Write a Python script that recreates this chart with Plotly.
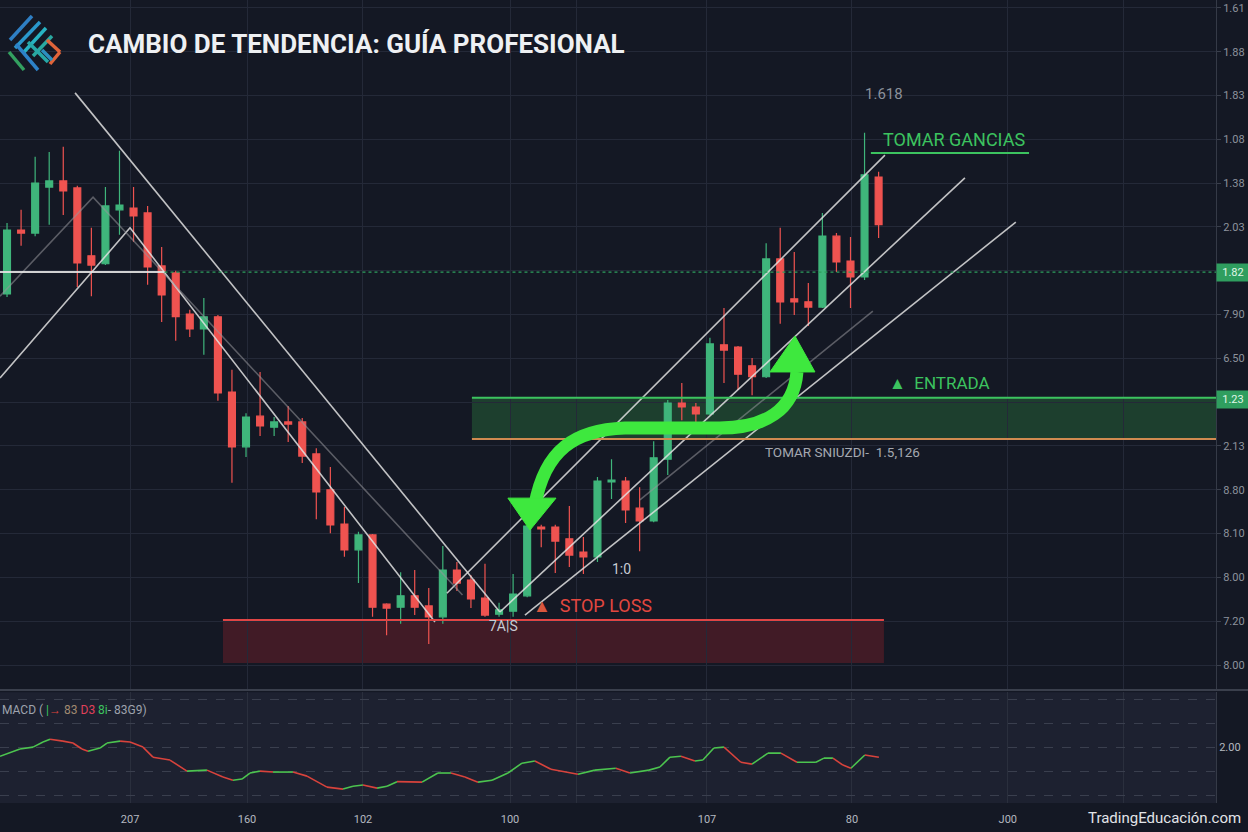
import plotly.graph_objects as go

# ---------------- data ----------------
opens = [84.7, 99.3, 98.6, 109.1, 110.5, 108.9, 93.4, 91.6, 103.9, 104.3, 103.2, 91.1, 89.5, 80.1, 76.7,
         79.5, 62.3, 49.8, 56.8, 54.3, 55.5, 55.5, 48.2, 40.0, 32.2, 26.3, 29.7, 13.9, 13.2, 15.8,
         13.5, 11.0, 21.7, 19.4, 15.3, 11.6, 12.3, 15.8, 31.5, 31.5, 28.8, 25.8, 24.7, 41.8, 42.0,
         35.8, 32.9, 47.0, 59.8, 58.9, 57.3, 73.1, 72.6, 68.3, 65.8, 92.7, 83.6, 82.9, 81.7, 97.9,
         92.2, 88.6, 111.4]
highs = [100.9, 103.9, 116.0, 117.1, 118.3, 109.4, 99.8, 109.1, 117.4, 109.1, 104.8, 95.4, 90.0, 81.1, 83.8,
         79.9, 67.4, 57.5, 66.9, 56.6, 59.1, 56.4, 49.5, 45.2, 36.1, 30.4, 29.9, 14.1, 21.2, 21.7,
         17.6, 27.2, 23.5, 20.5, 23.1, 14.2, 20.8, 34.2, 32.0, 32.0, 36.3, 29.2, 42.9, 47.0, 42.9,
         40.6, 51.1, 60.5, 64.4, 59.8, 74.7, 81.5, 72.8, 70.1, 96.3, 99.8, 94.3, 87.2, 103.2, 98.6,
         97.7, 121.5, 112.6]
lows = [84.0, 95.7, 97.9, 100.5, 102.7, 86.3, 84.2, 91.3, 98.2, 96.6, 86.8, 78.3, 74.0, 74.9, 70.8,
        60.3, 41.6, 47.5, 52.3, 52.3, 50.9, 46.1, 33.3, 30.1, 24.7, 18.7, 11.0, 6.8, 9.4, 11.4,
        4.8, 9.4, 16.9, 13.0, 11.0, 11.0, 11.0, 15.5, 26.9, 21.0, 22.4, 20.8, 23.5, 37.9, 32.4,
        26.0, 32.6, 43.4, 55.9, 55.5, 57.1, 64.4, 62.8, 61.6, 65.5, 77.9, 79.9, 77.4, 81.5, 89.7,
        81.5, 87.9, 97.5]
closes = [99.3, 98.6, 110.0, 110.5, 108.2, 91.8, 91.3, 104.8, 105.0, 102.5, 90.9, 84.5, 79.5, 76.7, 79.5,
          62.1, 49.8, 56.6, 54.6, 55.5, 55.0, 47.7, 39.5, 32.0, 26.3, 29.7, 13.2, 13.0, 15.8, 13.2,
          11.0, 21.7, 18.7, 15.1, 11.4, 12.6, 16.2, 31.7, 31.1, 28.3, 25.1, 24.7, 42.0, 42.2, 35.4,
          32.9, 47.3, 59.8, 58.9, 57.3, 73.3, 71.9, 66.4, 65.8, 92.7, 82.9, 82.9, 81.7, 97.9, 92.0,
          88.6, 111.9, 100.5]
bars = list(range(len(opens)))

macd_x = [-0.5, 0.92, 1.85, 2.56, 3.06, 3.98, 4.69, 5.33, 5.76, 6.61, 7.11, 8.04, 8.75, 9.67, 10.38,
          11.59, 12.80, 14.22, 15.36, 16.07, 16.71, 17.28, 17.99, 18.92, 20.34, 21.34, 22.76, 23.90,
          24.61, 25.32, 26.32, 27.03, 27.74, 29.52, 30.65, 31.58, 32.57, 33.50, 34.50, 35.63, 36.63,
          37.55, 38.69, 40.61, 41.82, 43.31, 44.31, 45.66, 46.44, 47.16, 47.94, 48.93, 49.50, 50.28,
          51.00, 52.20, 52.99, 54.13, 55.05, 56.19, 57.54, 58.11, 58.75, 59.46, 60.03, 61.02, 62.02]
macd_v = [-0.38, -0.08, 0.0, 0.21, 0.33, 0.25, 0.17, -0.08, -0.17, -0.04, 0.17, 0.25, 0.21, 0.0, -0.42,
          -0.54, -1.0, -0.96, -1.25, -1.38, -1.33, -1.08, -1.0, -1.04, -1.04, -1.21, -1.67, -1.75,
          -1.63, -1.58, -1.71, -1.63, -1.44, -1.46, -1.08, -1.08, -1.25, -1.46, -1.38, -1.08, -0.67,
          -0.58, -0.92, -1.13, -0.96, -0.88, -1.08, -0.96, -0.83, -0.42, -0.38, -0.58, -0.54, -0.04,
          0.0, -0.63, -0.71, -0.25, -0.25, -0.63, -0.63, -0.46, -0.46, -0.75, -0.88, -0.33, -0.42]

# axis labels (as printed on the chart)
price_ticks = [0, 10, 20, 30, 40, 50, 60, 70, 80, 90, 100, 110, 120, 130, 140, 150]
price_labels = ["8.00", "7.20", "8.00", "8.10", "8.80", "2.13", "", "6.50", "7.90", "",
                "2.03", "1.38", "1.08", "1.83", "1.88", "1.61"]
time_ticks = [8.75, 17.07, 25.32, 35.78, 40.54, 49.79, 60.10, 71.19, 79.45]
time_labels = ["207", "160", "102", "100", "", "107", "80", "J00", ""]
macd_ticks = [-2, -1, 0, 1, 2]
macd_labels = ["", "", "2.00", "", ""]

# analysis levels / drawings (bar index, price)
entry_zone = (33.07, 51.6, 61.0)
stop_zone = (15.36, 62.38, 0.46, 10.3)
pivot_level = 89.7
trend_lines = {
    "down_main": [(4.84, 130.6), (35.06, 12.1)],
    "down_inner": [(-0.5, 65.5), (8.75, 99.8), (30.44, 9.8)],
    "up_1": [(31.29, 16.4), (62.45, 116.4)],
    "up_2": [(35.06, 12.1), (68.14, 111.2)],
    "up_3": [(36.84, 11.4), (71.76, 101.1)],
}
grey_lines = {
    "down_grey": [(-0.5, 84.2), (6.12, 106.8), (32.4, 16.0)],
    "up_grey": [(45.02, 37.7), (61.59, 80.8)],
}

GREEN = "#3fb57b"
RED = "#ef5350"
BG = "#141824"
XR = [-0.5, 86.0]

fig = go.Figure()

fig.add_trace(go.Candlestick(
    x=bars, open=opens, high=highs, low=lows, close=closes,
    increasing=dict(line=dict(color=GREEN, width=1.2), fillcolor=GREEN),
    decreasing=dict(line=dict(color=RED, width=1.2), fillcolor=RED),
    whiskerwidth=0, showlegend=False, xaxis="x", yaxis="y"))

for name, pts in trend_lines.items():
    fig.add_trace(go.Scatter(x=[p[0] for p in pts], y=[p[1] for p in pts], mode="lines",
                             line=dict(color="rgba(225,225,225,0.85)", width=1.6),
                             showlegend=False, hoverinfo="skip"))
for name, pts in grey_lines.items():
    fig.add_trace(go.Scatter(x=[p[0] for p in pts], y=[p[1] for p in pts], mode="lines",
                             line=dict(color="rgba(150,150,155,0.55)", width=1.6),
                             showlegend=False, hoverinfo="skip"))

# MACD coloured by direction
ux, uy, dx, dy = [], [], [], []
for k in range(len(macd_x) - 1):
    tx, ty = (ux, uy) if macd_v[k + 1] >= macd_v[k] else (dx, dy)
    tx += [macd_x[k], macd_x[k + 1], None]
    ty += [macd_v[k], macd_v[k + 1], None]
fig.add_trace(go.Scatter(x=ux, y=uy, mode="lines", line=dict(color="#4cc44f", width=1.6),
                         xaxis="x2", yaxis="y2", showlegend=False, hoverinfo="skip"))
fig.add_trace(go.Scatter(x=dx, y=dy, mode="lines", line=dict(color="#d8433c", width=1.6),
                         xaxis="x2", yaxis="y2", showlegend=False, hoverinfo="skip"))

shapes = []
# MACD panel background
shapes.append(dict(type="rect", xref="paper", yref="y2 domain", x0=0, x1=1, y0=0, y1=1,
                   fillcolor="#1d2130", line=dict(width=0), layer="below"))
shapes.append(dict(type="line", xref="paper", yref="paper", x0=0, x1=1.03, y0=0.1407, y1=0.1407,
                   line=dict(color="#3a3f4c", width=2)))
# entry zone
ex0, ey0, ey1 = entry_zone
shapes.append(dict(type="rect", xref="x", yref="y", x0=ex0, x1=XR[1], y0=ey0, y1=ey1,
                   fillcolor="rgba(40,110,60,0.45)", line=dict(width=0), layer="below"))
shapes.append(dict(type="line", xref="x", yref="y", x0=ex0, x1=XR[1], y0=ey1, y1=ey1,
                   line=dict(color="#3cc35f", width=2)))
shapes.append(dict(type="line", xref="x", yref="y", x0=ex0, x1=XR[1], y0=ey0, y1=ey0,
                   line=dict(color="#d08a50", width=2)))
# stop zone
sx0, sx1, sy0, sy1 = stop_zone
shapes.append(dict(type="rect", xref="x", yref="y", x0=sx0, x1=sx1, y0=sy0, y1=sy1,
                   fillcolor="rgba(110,30,40,0.5)", line=dict(width=0), layer="below"))
shapes.append(dict(type="line", xref="x", yref="y", x0=sx0, x1=sx1, y0=sy1, y1=sy1,
                   line=dict(color="#e04545", width=2)))
# pivot level
shapes.append(dict(type="line", xref="x", yref="y", x0=XR[0], x1=11.2, y0=pivot_level, y1=pivot_level,
                   line=dict(color="rgba(230,230,230,0.9)", width=2)))
shapes.append(dict(type="line", xref="x", yref="y", x0=11.2, x1=XR[1], y0=pivot_level, y1=pivot_level,
                   line=dict(color="#2e9e5e", width=1.2, dash="dot")))
# take-profit underline
shapes.append(dict(type="line", xref="x", yref="y", x0=61.45, x1=72.7, y0=116.9, y1=116.9,
                   line=dict(color="#3cc35f", width=2)))
# curved green arrow
ARROW = "#3ee83e"
shapes.append(dict(type="path", xref="x", yref="y",
                   path="M 37.55,36.5 C 38.26,49.1 40.4,53.7 43.95,54.1 L 50.71,54.1 "
                        "C 53.91,54.1 56.0,58.2 56.19,66.9",
                   line=dict(color=ARROW, width=13)))
shapes.append(dict(type="path", xref="x", yref="y",
                   path="M 35.63,38.1 L 39.05,38.1 L 37.2,30.8 Z",
                   fillcolor=ARROW, line=dict(color=ARROW, width=1)))
shapes.append(dict(type="path", xref="x", yref="y",
                   path="M 54.27,66.9 L 57.47,66.9 L 56.05,75.1 Z",
                   fillcolor=ARROW, line=dict(color=ARROW, width=1)))

# logo (pixel -> paper helper for decoration only)
def P(px, py):
    return px / 1216.0, 1 - py / 803.0

logo = [((10, 40), (32, 16), "#2f7fc4"), ((15, 48), (40, 22), "#2a98cc"),
        ((24, 52), (46, 28), "#27b3c2"), ((33, 56), (52, 36), "#2aa8a0"),
        ((9, 52), (24, 70), "#33a060"), ((16, 44), (38, 70), "#2d82c8"),
        ((28, 42), (48, 62), "#27a8a8"), ((47, 40), (60, 52), "#e0643a"),
        ((60, 52), (50, 64), "#e0643a"), ((42, 50), (52, 60), "#2b8fc0")]
for (a, b, c) in logo:
    x0, y0 = P(*a)
    x1, y1 = P(*b)
    shapes.append(dict(type="line", xref="paper", yref="paper", x0=x0, y0=y0, x1=x1, y1=y1,
                       line=dict(color=c, width=3.5)))

F = "Roboto"
ann = []
tx, ty = P(86, 44)
ann.append(dict(xref="paper", yref="paper", x=tx, y=ty, xanchor="left", yanchor="middle",
                text="<b>CAMBIO DE TENDENCIA: GUÍA PROFESIONAL</b>", showarrow=False,
                font=dict(family=F, size=26, color="#eef0f3")))
ann.append(dict(x=62.4, y=130.4, text="1.618", showarrow=False, xanchor="center", yanchor="middle",
                font=dict(family=F, size=15, color="#8b909a")))
ann.append(dict(x=62.2, y=119.9, text="TOMAR GANCIAS", showarrow=False, xanchor="left", yanchor="middle",
                font=dict(family=F, size=18, color="#3cc35f")))
ann.append(dict(x=62.6, y=64.4, text="▲  ENTRADA", showarrow=False, xanchor="left", yanchor="middle",
                font=dict(family=F, size=17, color="#3cc35f")))
ann.append(dict(x=53.8, y=48.6, text="TOMAR SNIUZDI-  1.5,126", showarrow=False, xanchor="left",
                yanchor="middle", font=dict(family=F, size=13.5, color="#a4a8b0")))
ann.append(dict(x=37.3, y=13.7, text="<span style='color:#d9573e'>▲</span>  STOP LOSS", showarrow=False,
                xanchor="left", yanchor="middle", font=dict(family=F, size=18, color="#e2473f")))
ann.append(dict(x=35.3, y=8.9, text="7A|S", showarrow=False, xanchor="center", yanchor="middle",
                font=dict(family=F, size=14, color="#c8ccd4")))
ann.append(dict(x=43.7, y=21.9, text="1:0", showarrow=False, xanchor="center", yanchor="middle",
                font=dict(family=F, size=14, color="#c8ccd4")))
# price badges
for yv, txt in [(pivot_level, "1.82"), (60.7, "1.23")]:
    ann.append(dict(xref="paper", yref="y", x=1.0, y=yv, text=txt, showarrow=False, xanchor="left",
                    yanchor="middle", bgcolor="#2f9e5f", width=30, height=15,
                    font=dict(family=F, size=11, color="#e0f7e8")))
# MACD label
mx_, my_ = P(0, 710)
ann.append(dict(xref="paper", yref="paper", x=mx_, y=my_, xanchor="left", yanchor="middle",
                showarrow=False,
                text="MACD ( <span style='color:#3cc35f'>|</span><span style='color:#d8433c'>→</span> "
                     "<span style='color:#a08a70'>83</span> <span style='color:#e0405a'>D3</span> "
                     "<span style='color:#3cc35f'>8i</span>- 83G9)",
                font=dict(family=F, size=12, color="#9ea3ad")))
wx, wy = P(1243, 818)
ann.append(dict(xref="paper", yref="paper", x=wx, y=wy, xanchor="right", yanchor="middle",
                showarrow=False, text="TradingEducación.com",
                font=dict(family=F, size=15, color="#e2e4e8")))

fig.update_layout(
    width=1248, height=832,
    margin=dict(l=0, r=32, t=0, b=29),
    paper_bgcolor=BG, plot_bgcolor=BG,
    showlegend=False,
    shapes=shapes, annotations=ann,
    xaxis=dict(domain=[0, 1], anchor="y", range=XR, tickvals=time_ticks, showticklabels=False,
               showgrid=True, gridcolor="#242938", gridwidth=1, zeroline=False,
               rangeslider=dict(visible=False), fixedrange=True),
    yaxis=dict(domain=[0.1407, 1], anchor="x", side="right", range=[-5.7, 151.8],
               tickvals=price_ticks, ticktext=price_labels, showgrid=True, gridcolor="#242938",
               zeroline=False, showline=True, linecolor="#353a47", ticks="outside", ticklen=4,
               tickcolor="#3a3f4c", tickfont=dict(family=F, size=11, color="#8d929c")),
    xaxis2=dict(domain=[0, 1], anchor="y2", range=XR, matches="x", tickvals=time_ticks,
                ticktext=time_labels, showgrid=True, gridcolor="#2a2f3d", zeroline=False,
                tickfont=dict(family=F, size=11, color="#b4b8c0"), ticks="",
                ticklabelstandoff=8),
    yaxis2=dict(domain=[0, 0.138], anchor="x2", side="right", range=[-2.33, 2.29],
                tickvals=macd_ticks, ticktext=macd_labels, showgrid=True, gridcolor="#3a3f4e",
                griddash="dash", zeroline=False, showline=True, linecolor="#353a47",
                tickfont=dict(family=F, size=11, color="#b4b8c0")),
)

fig.write_html("out.html", config={"displayModeBar": False},
               post_script="document.body.style.margin='0';document.body.style.overflow='hidden';")
